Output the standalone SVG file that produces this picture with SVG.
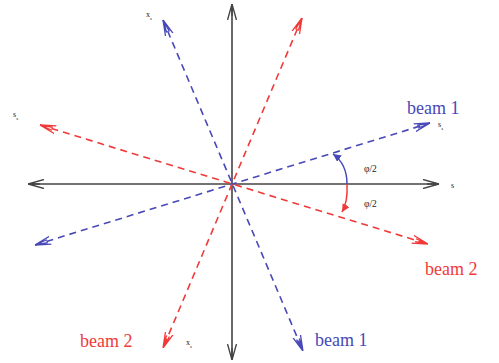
<svg xmlns="http://www.w3.org/2000/svg" width="499" height="363" viewBox="0 0 499 363">
<defs>
<style>
.ax{stroke:#444;stroke-width:1.6;fill:none}
.bl{stroke:#4848b8;stroke-width:1.6;fill:none;stroke-dasharray:7,5}
.rd{stroke:#f03a3a;stroke-width:1.6;fill:none;stroke-dasharray:7,5}
.arcb{stroke:#4848b8;stroke-width:1.5;fill:none}
.arcr{stroke:#f03a3a;stroke-width:1.5;fill:none}
.big{font-family:"Liberation Serif",serif;font-size:18px}
.sm{font-family:"Liberation Serif",serif;font-size:8px;fill:#222}
.phi{font-family:"Liberation Serif",serif;font-size:9.5px;fill:#222}
</style>
<marker id="ma" viewBox="0 0 16 10" refX="16" refY="5" markerWidth="16" markerHeight="10" markerUnits="userSpaceOnUse" orient="auto-start-reverse">
<path d="M0,0.5 L16,5 L0,9.5 M4,5 L16,5" fill="none" stroke="#444" stroke-width="1.4"/>
</marker>
<marker id="mb" viewBox="0 0 16 10" refX="16" refY="5" markerWidth="16" markerHeight="10" markerUnits="userSpaceOnUse" orient="auto-start-reverse">
<path d="M0,1 L16,5 L0,9 M3,3.5 L16,5 M3,6.5 L16,5" fill="none" stroke="#4848b8" stroke-width="1.3"/>
</marker>
<marker id="mr" viewBox="0 0 16 10" refX="16" refY="5" markerWidth="16" markerHeight="10" markerUnits="userSpaceOnUse" orient="auto-start-reverse">
<path d="M0,1 L16,5 L0,9 M3,3.5 L16,5 M3,6.5 L16,5" fill="none" stroke="#f03a3a" stroke-width="1.3"/>
</marker>
<marker id="sb" viewBox="0 0 8 8" refX="8" refY="4" markerWidth="8" markerHeight="8" markerUnits="userSpaceOnUse" orient="auto">
<path d="M0,0 L8,4 L0,8 Z" fill="#4848b8"/>
</marker>
<marker id="sr" viewBox="0 0 8 8" refX="8" refY="4" markerWidth="8" markerHeight="8" markerUnits="userSpaceOnUse" orient="auto">
<path d="M0,0 L8,4 L0,8 Z" fill="#f03a3a"/>
</marker>
</defs>
<g id="connectors">
<line id="axis-s" class="ax" x1="28" y1="184" x2="439" y2="184" marker-start="url(#ma)" marker-end="url(#ma)"/>
<line id="axis-v" class="ax" x1="232" y1="4" x2="232" y2="360" marker-start="url(#ma)" marker-end="url(#ma)"/>
<line id="blue-x" class="bl" x1="163" y1="20" x2="303" y2="351" marker-start="url(#mb)" marker-end="url(#mb)"/>
<line id="blue-s" class="bl" x1="35" y1="245" x2="430" y2="123" marker-start="url(#mb)" marker-end="url(#mb)"/>
<line id="red-s" class="rd" x1="40" y1="125" x2="428" y2="244" marker-start="url(#mr)" marker-end="url(#mr)"/>
<line id="red-x" class="rd" x1="302" y1="18" x2="163" y2="348" marker-start="url(#mr)" marker-end="url(#mr)"/>
<path id="arc-blue" class="arcb" d="M347,184 Q347,164 333,154" marker-end="url(#sb)"/>
<path id="arc-red" class="arcr" d="M347,184 Q348,202 342,212" marker-end="url(#sr)"/>
</g>
<g id="labels">
<text class="big" x="407" y="114" fill="#4848b8">beam 1</text>
<text class="big" x="425" y="275" fill="#f03a3a">beam 2</text>
<text class="big" x="80" y="347" fill="#f03a3a">beam 2</text>
<text class="big" x="315" y="346" fill="#4848b8">beam 1</text>
<text class="sm" x="146" y="17">x<tspan font-size="5" dy="3">s</tspan></text>
<text class="sm" x="13" y="117">s<tspan font-size="5" dy="3">s</tspan></text>
<text class="sm" x="438" y="127">s<tspan font-size="5" dy="3">s</tspan></text>
<text class="sm" x="186" y="345">x<tspan font-size="5" dy="3">s</tspan></text>
<text class="sm" x="451" y="188">s</text>
<text class="phi" x="364" y="172">φ/2</text>
<text class="phi" x="364" y="207">φ/2</text>
</g>
</svg>
